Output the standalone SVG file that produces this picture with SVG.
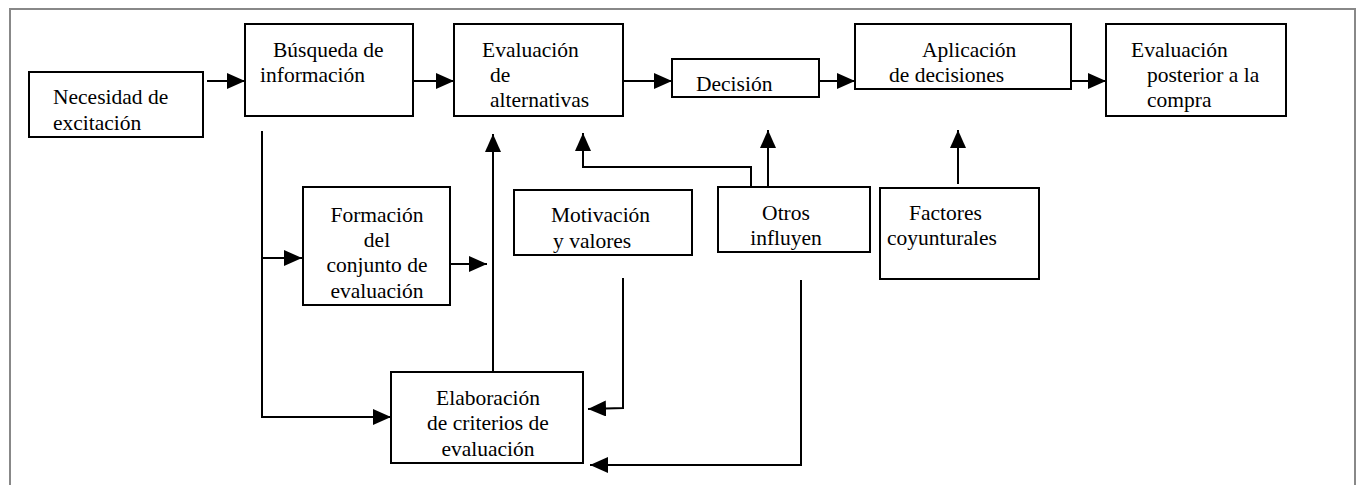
<svg xmlns="http://www.w3.org/2000/svg" width="1364" height="485" viewBox="0 0 1364 485">
<style>
.box{fill:#fff;stroke:#000;stroke-width:2}
.t{font-family:'Liberation Serif','Times New Roman','DejaVu Serif',serif;font-size:21.5px;fill:#000}
.c{text-anchor:middle}
.ln{fill:none;stroke:#000;stroke-width:2}
</style>
<defs>
<marker id="ah" markerUnits="userSpaceOnUse" markerWidth="18" markerHeight="16" refX="18" refY="8" orient="auto">
<path d="M0,0 L18,8 L0,16 z" fill="#000"/>
</marker>
</defs>
<rect width="1364" height="485" fill="#fff"/>
<path d="M10,490 L10,9 L1355,9 L1355,490" fill="none" stroke="#888" stroke-width="2"/>

<g id="connectors">
<line class="ln" x1="207" y1="81" x2="245" y2="81" marker-end="url(#ah)"/>
<line class="ln" x1="413" y1="81" x2="454" y2="81" marker-end="url(#ah)"/>
<line class="ln" x1="623" y1="81" x2="672" y2="81" marker-end="url(#ah)"/>
<line class="ln" x1="819" y1="81" x2="855" y2="81" marker-end="url(#ah)"/>
<line class="ln" x1="1071" y1="81" x2="1106" y2="81" marker-end="url(#ah)"/>
<path class="ln" d="M262,131 L262,417 L391,417" marker-end="url(#ah)"/>
<line class="ln" x1="262" y1="258" x2="302" y2="258" marker-end="url(#ah)"/>
<line class="ln" x1="451" y1="264" x2="487" y2="264" marker-end="url(#ah)"/>
<line class="ln" x1="493" y1="371" x2="493" y2="134" marker-end="url(#ah)"/>
<path class="ln" d="M751,187 L751,167 L583,167 L583,133" marker-end="url(#ah)"/>
<line class="ln" x1="768" y1="188" x2="768" y2="130" marker-end="url(#ah)"/>
<line class="ln" x1="958" y1="184" x2="958" y2="130" marker-end="url(#ah)"/>
<path class="ln" d="M623,278 L623,408 L588,409" marker-end="url(#ah)"/>
<path class="ln" d="M801,280 L801,465 L590,465" marker-end="url(#ah)"/>
</g>

<g id="necesidad">
<rect class="box" x="29" y="72" width="174" height="65"/>
<text class="t" x="53" y="104">Necesidad de</text>
<text class="t" x="53" y="130">excitación</text>
</g>
<g id="busqueda">
<rect class="box" x="245" y="24" width="168" height="92"/>
<text class="t" x="273" y="57">Búsqueda de</text>
<text class="t" x="260" y="82">información</text>
</g>
<g id="evaluacion-alternativas">
<rect class="box" x="454" y="24" width="169" height="92"/>
<text class="t" x="482" y="57">Evaluación</text>
<text class="t" x="490" y="82">de</text>
<text class="t" x="490" y="107">alternativas</text>
</g>
<g id="decision">
<rect class="box" x="672" y="59" width="147" height="38"/>
<text class="t" x="696" y="91">Decisión</text>
</g>
<g id="aplicacion">
<rect class="box" x="855" y="24" width="216" height="65"/>
<text class="t" x="922" y="57">Aplicación</text>
<text class="t" x="889" y="82">de decisiones</text>
</g>
<g id="evaluacion-posterior">
<rect class="box" x="1106" y="24" width="180" height="92"/>
<text class="t" x="1131" y="57">Evaluación</text>
<text class="t" x="1147" y="82">posterior a la</text>
<text class="t" x="1147" y="107">compra</text>
</g>
<g id="formacion">
<rect class="box" x="303" y="187" width="147" height="118"/>
<text class="t c" x="377" y="222">Formación</text>
<text class="t c" x="377" y="247">del</text>
<text class="t c" x="377" y="272">conjunto de</text>
<text class="t c" x="377" y="298">evaluación</text>
</g>
<g id="motivacion">
<rect class="box" x="514" y="190" width="178" height="65"/>
<text class="t" x="551" y="222">Motivación</text>
<text class="t" x="553" y="248">y valores</text>
</g>
<g id="elaboracion">
<rect class="box" x="391" y="372" width="192" height="91"/>
<text class="t c" x="488" y="405">Elaboración</text>
<text class="t c" x="488" y="430">de criterios de</text>
<text class="t c" x="488" y="456">evaluación</text>
</g>
<g id="otros">
<rect class="box" x="718" y="187" width="152" height="65"/>
<text class="t c" x="786" y="220">Otros</text>
<text class="t c" x="786" y="245">influyen</text>
</g>
<g id="factores">
<rect class="box" x="880" y="188" width="159" height="91"/>
<text class="t" x="909" y="220">Factores</text>
<text class="t" x="887" y="245">coyunturales</text>
</g>
</svg>
